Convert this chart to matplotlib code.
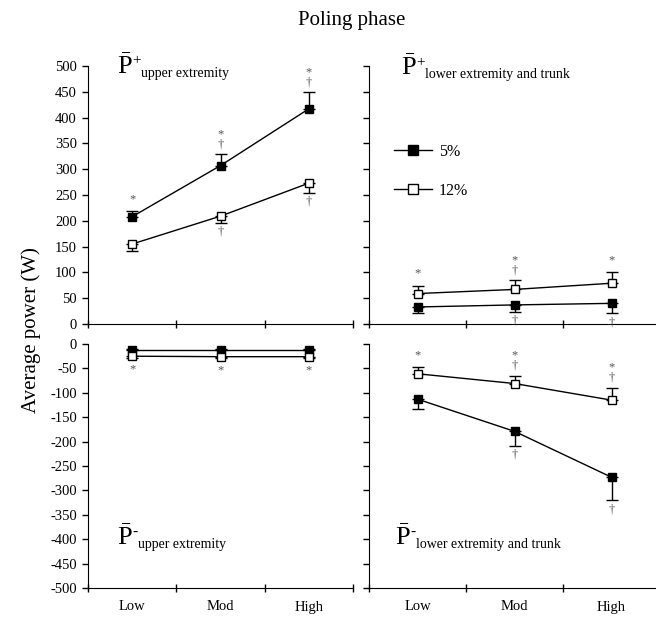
#!/usr/bin/env python3
"""
Figura: potencia media en la fase de bastoneo (poling phase).
"""

import matplotlib
matplotlib.use('Agg')
import matplotlib.pyplot as plt
from matplotlib.lines import Line2D

plt.rcParams['font.family'] = 'serif'
plt.rcParams['font.serif'] = ['Liberation Serif', 'DejaVu Serif']
plt.rcParams['mathtext.fontset'] = 'custom'
plt.rcParams['mathtext.rm'] = 'Liberation Serif'
plt.rcParams['axes.unicode_minus'] = False

categorias = ['Low', 'Mod', 'High']

# P+ upper extremity
sup_brazo_5 = [208, 307, 417]
sup_brazo_5_sd = [11, 22, 32]
sup_brazo_12 = [155, 209, 273]
sup_brazo_12_sd = [14, 13, 19]

# P+ lower extremity and trunk
sup_tronco_5 = [33, 37, 40]
sup_tronco_5_sd = [12, 13, 19]
sup_tronco_12 = [59, 67, 79]
sup_tronco_12_sd = [15, 18, 21]

# P- upper extremity
inf_brazo_5 = [-13, -13, -13]
inf_brazo_5_sd = [3, 3, 3]
inf_brazo_12 = [-25, -26, -26]
inf_brazo_12_sd = [3, 3, 3]

# P- lower extremity and trunk
inf_tronco_5 = [-113, -179, -273]
inf_tronco_5_sd = [20, 30, 47]
inf_tronco_12 = [-61, -81, -115]
inf_tronco_12_sd = [14, 16, 25]

# Marcas de significancia (de arriba hacia abajo)
marcas_sup_brazo_arriba = ['*', '*\n†', '*\n†']
marcas_sup_brazo_abajo = ['', '†', '†']
marcas_sup_tronco_arriba = ['*', '*\n†', '*']
marcas_sup_tronco_abajo = ['', '†', '†']
marcas_inf_brazo_abajo = ['*', '*', '*']
marcas_inf_tronco_arriba = ['*', '*\n†', '*\n†']
marcas_inf_tronco_abajo = ['', '†', '†']

GRIS = '#555555'


def serie(ax, medias, sds, lleno, sentido):
    x = range(len(medias))
    ceros = [0] * len(sds)
    yerr = [ceros, sds] if sentido == 'arriba' else [sds, ceros]
    ax.errorbar(x, medias, yerr=yerr, color='black', lw=1, elinewidth=1,
                capsize=4, capthick=1, marker='s', markersize=5.8,
                markerfacecolor='black' if lleno else 'white',
                markeredgecolor='black', markeredgewidth=1, zorder=3)


def marcas(ax, bases, simbolos, sentido):
    for i, (b, s) in enumerate(zip(bases, simbolos)):
        if not s:
            continue
        if sentido == 'arriba':
            off = 4 if s.endswith('†') else 6
            ax.annotate(s, (i, b), xytext=(0, off), textcoords='offset pixels',
                        ha='center', va='bottom', fontsize=9, color=GRIS,
                        linespacing=0.8)
        else:
            off = -6 if s == '*' else -3
            ax.annotate(s, (i, b), xytext=(0, off), textcoords='offset pixels',
                        ha='center', va='top', fontsize=9, color=GRIS)


def etiqueta(ax, x, y, signo, texto):
    t1 = ax.text(x, y, r'$\bar{\mathrm{P}}$', transform=ax.transAxes,
                 fontsize=19, ha='left', va='baseline')
    t2 = ax.annotate(signo, xy=(1, 1), xycoords=t1, xytext=(0, -1),
                     textcoords='offset pixels', ha='left', va='top', fontsize=11)
    ax.annotate(texto, xy=(1, 0), xycoords=(t2, t1), xytext=(0, 2),
                textcoords='offset pixels', ha='left', va='baseline', fontsize=10)


def ejes(ax, abajo, con_etiquetas):
    ax.spines['top'].set_visible(False)
    ax.spines['right'].set_visible(False)
    ax.set_xlim(-0.5, 2.5)
    ax.set_xticks([-0.5, 0.5, 1.5, 2.5])
    ax.set_xticklabels([])
    ax.tick_params(axis='x', which='major', direction='inout', length=6, width=1)
    ax.tick_params(axis='y', direction='out', length=4, width=1, labelsize=10.5, pad=4)
    if abajo:
        ax.set_ylim(-500, 0)
        ax.set_yticks(range(-500, 1, 50))
        ax.set_xticks([0, 1, 2], minor=True)
        ax.set_xticklabels(categorias, minor=True, fontsize=10.5)
        ax.tick_params(axis='x', which='minor', length=0, pad=9)
    else:
        ax.set_ylim(0, 500)
        ax.set_yticks(range(0, 501, 50))
    if not con_etiquetas:
        ax.set_yticklabels([])


fig = plt.figure(figsize=(6.56, 6.17), dpi=100)
W, H = 656, 617
izq, der = 88, 369
ancho = 291
ancho_izq = 265
arriba_top, arriba_bot = 66, 324
abajo_top, abajo_bot = 344, 588

ax1 = fig.add_axes([izq / W, 1 - arriba_bot / H, ancho_izq / W, (arriba_bot - arriba_top) / H])
ax2 = fig.add_axes([der / W, 1 - arriba_bot / H, ancho / W, (arriba_bot - arriba_top) / H])
ax3 = fig.add_axes([izq / W, 1 - abajo_bot / H, ancho_izq / W, (abajo_bot - abajo_top) / H])
ax4 = fig.add_axes([der / W, 1 - abajo_bot / H, ancho / W, (abajo_bot - abajo_top) / H])

ejes(ax1, False, True)
ejes(ax2, False, False)
ejes(ax3, True, True)
ejes(ax4, True, False)
for ax in (ax1, ax2, ax3, ax4):
    ax.patch.set_alpha(0)

# Panel 1
serie(ax1, sup_brazo_5, sup_brazo_5_sd, True, 'arriba')
serie(ax1, sup_brazo_12, sup_brazo_12_sd, False, 'abajo')
marcas(ax1, [m + s for m, s in zip(sup_brazo_5, sup_brazo_5_sd)], marcas_sup_brazo_arriba, 'arriba')
marcas(ax1, [m - s for m, s in zip(sup_brazo_12, sup_brazo_12_sd)], marcas_sup_brazo_abajo, 'abajo')
etiqueta(ax1, 0.11, 0.97, '+', 'upper extremity')

# Panel 2
serie(ax2, sup_tronco_5, sup_tronco_5_sd, True, 'abajo')
serie(ax2, sup_tronco_12, sup_tronco_12_sd, False, 'arriba')
marcas(ax2, [m + s for m, s in zip(sup_tronco_12, sup_tronco_12_sd)], marcas_sup_tronco_arriba, 'arriba')
marcas(ax2, [m - s for m, s in zip(sup_tronco_5, sup_tronco_5_sd)], marcas_sup_tronco_abajo, 'abajo')
etiqueta(ax2, 0.11, 0.965, '+', 'lower extremity and trunk')

handles = [Line2D([], [], color='black', lw=1, marker='s', markersize=7.5,
                  markerfacecolor='black', markeredgecolor='black'),
           Line2D([], [], color='black', lw=1, marker='s', markersize=7.5,
                  markerfacecolor='white', markeredgecolor='black')]
ax2.legend(handles, ['5%', '12%'], loc='upper left', bbox_to_anchor=(0.058, 0.73),
           frameon=False, fontsize=11.5, handlelength=2.4, handletextpad=0.4,
           labelspacing=1.45, borderpad=0)

# Panel 3
serie(ax3, inf_brazo_5, inf_brazo_5_sd, True, 'arriba')
serie(ax3, inf_brazo_12, inf_brazo_12_sd, False, 'abajo')
marcas(ax3, [m - s for m, s in zip(inf_brazo_12, inf_brazo_12_sd)], marcas_inf_brazo_abajo, 'abajo')
etiqueta(ax3, 0.11, 0.175, '-', 'upper extremity')

# Panel 4
serie(ax4, inf_tronco_5, inf_tronco_5_sd, True, 'abajo')
serie(ax4, inf_tronco_12, inf_tronco_12_sd, False, 'arriba')
marcas(ax4, [m + s for m, s in zip(inf_tronco_12, inf_tronco_12_sd)], marcas_inf_tronco_arriba, 'arriba')
marcas(ax4, [m - s for m, s in zip(inf_tronco_5, inf_tronco_5_sd)], marcas_inf_tronco_abajo, 'abajo')
etiqueta(ax4, 0.09, 0.175, '-', 'lower extremity and trunk')

fig.text(352 / W, 1 - 20 / H, 'Poling phase', ha='center', va='center', fontsize=15)
fig.text(31 / W, 1 - 330 / H, 'Average power (W)', ha='center', va='center',
         rotation=90, fontsize=15)

plt.savefig('out.png', dpi=100)
plt.close()
